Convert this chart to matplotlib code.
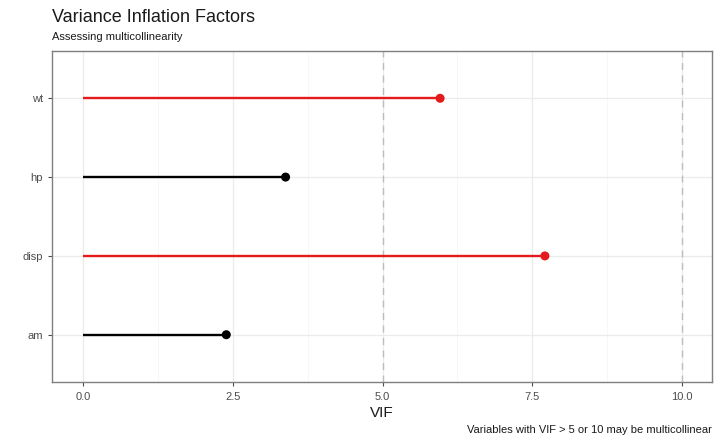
import matplotlib.pyplot as plt
import numpy as np

# VIF values
variables = ['am', 'disp', 'hp', 'wt']
vif = [2.39, 7.71, 3.38, 5.96]
colors = ['#E41A1C' if v > 5 else 'black' for v in vif]

plt.rcParams['font.family'] = ['Liberation Sans', 'DejaVu Sans']

fig = plt.figure(figsize=(7.2, 4.45), dpi=100)
ax = fig.add_axes([52 / 720, 1 - 382 / 445, 660 / 720, 331 / 445])

ypos = np.arange(1, len(variables) + 1)

# grid like theme_bw
for x in np.arange(0, 10.01, 2.5):
    ax.axvline(x, color='#EBEBEB', lw=0.9, zorder=0)
for x in np.arange(1.25, 10.5, 2.5):
    ax.axvline(x, color='#F4F4F4', lw=0.5, zorder=0)
for y in ypos:
    ax.axhline(y, color='#EBEBEB', lw=0.9, zorder=0)

ax.axvline(5, color='#BDBDBD', lw=1, ls=(0, (5, 4)), zorder=1)
ax.axvline(10, color='#BDBDBD', lw=1, ls=(0, (5, 4)), zorder=1)

ax.hlines(ypos, 0, vif, colors=colors, lw=1.7, zorder=2)
ax.scatter(vif, ypos, color=colors, s=30, zorder=3)

ax.set_xlim(-0.52, 10.5)
ax.set_ylim(0.4, 4.6)
ax.set_yticks(ypos)
ax.set_yticklabels(variables)
ax.set_xticks([0, 2.5, 5, 7.5, 10])
ax.set_xticklabels(['0.0', '2.5', '5.0', '7.5', '10.0'])
ax.tick_params(colors='#4D4D4D', labelsize=8, length=3, width=0.8)
ax.tick_params(axis='x', pad=4)
for s in ax.spines.values():
    s.set_color('#7F7F7F')
    s.set_linewidth(1)

ax.set_xlabel('VIF', fontsize=11, color='#1A1A1A', labelpad=3)

fig.text(52 / 720, 1 - 17 / 445, 'Variance Inflation Factors', fontsize=13, va='center', color='#1A1A1A')
fig.text(52 / 720, 1 - 37 / 445, 'Assessing multicollinearity', fontsize=8, va='center', color='#1A1A1A')
fig.text(712 / 720, 1 - 430 / 445, 'Variables with VIF > 5 or 10 may be multicollinear',
         fontsize=8, ha='right', va='center', color='#1A1A1A')

fig.savefig('out.png', dpi=100)
